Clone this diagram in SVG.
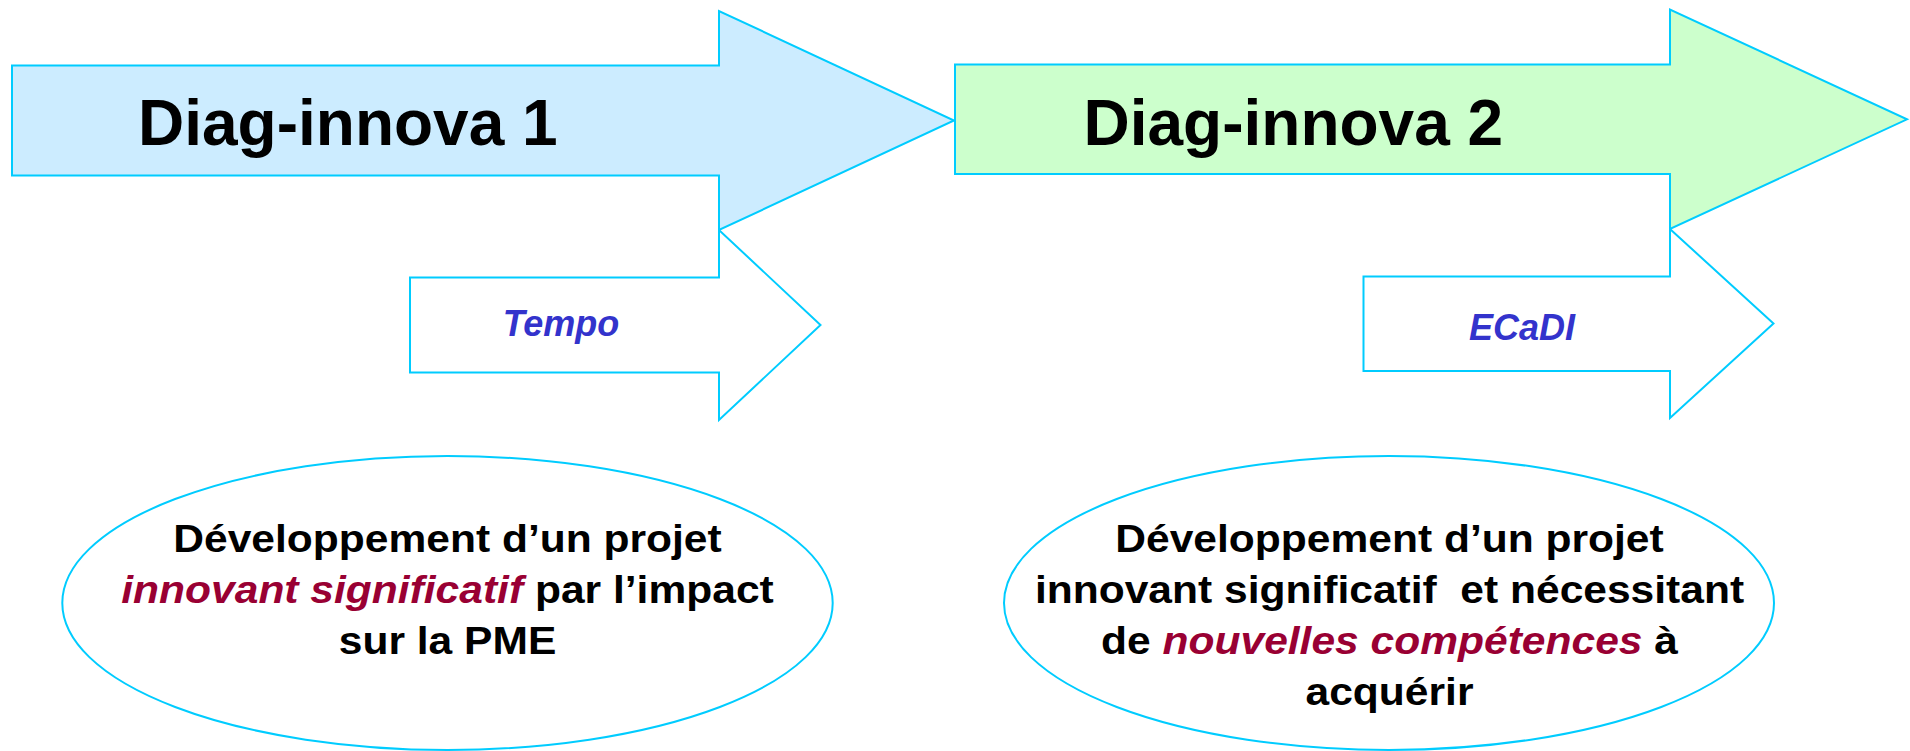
<svg xmlns="http://www.w3.org/2000/svg" width="1910" height="751" viewBox="0 0 1910 751">
<style>
.shape{stroke:#00CCFF;stroke-width:2;stroke-linejoin:miter}
.big{font-family:"Liberation Sans",Arial,sans-serif;font-weight:bold;font-size:64px;fill:#000}
.small{font-family:"Liberation Sans",Arial,sans-serif;font-weight:bold;font-style:italic;font-size:36px;fill:#3333CC;text-anchor:middle}
.body{font-family:"Liberation Sans",Arial,sans-serif;font-weight:bold;font-size:38px;fill:#000;text-anchor:middle}
.em{font-style:italic;fill:#990033}
</style>
<rect width="1910" height="751" fill="#FFFFFF"/>
<g id="connectors"></g>
<g id="arrow-diag1">
<polygon class="shape" fill="#CCECFF" points="12,65.5 719,65.5 719,11 954,120.5 719,230 719,175.5 12,175.5"/>
<text class="big" x="138" y="145">Diag-innova 1</text>
</g>
<g id="arrow-diag2">
<polygon class="shape" fill="#CCFFCC" points="955,64.5 1670,64.5 1670,9.5 1907,119.3 1670,229 1670,174 955,174"/>
<text class="big" x="1083.5" y="145">Diag-innova 2</text>
</g>
<g id="arrow-tempo">
<polygon class="shape" fill="#FFFFFF" points="410,277.5 719,277.5 719,230 820.5,325 719,420 719,372.5 410,372.5"/>
<text class="small" x="561" y="336">Tempo</text>
</g>
<g id="arrow-ecadi">
<polygon class="shape" fill="#FFFFFF" points="1363.5,276.5 1670,276.5 1670,229 1773.5,323.5 1670,418 1670,371 1363.5,371"/>
<text class="small" x="1522" y="340">ECaDI</text>
</g>
<g id="ellipse-1">
<ellipse class="shape" fill="#FFFFFF" cx="447.5" cy="603" rx="385.2" ry="147"/>
<g transform="translate(447.5 0) scale(1.12 1)">
<text class="body" x="0" y="552.5">Développement d’un projet</text>
<text class="body" x="0" y="603.5"><tspan class="em">innovant significatif</tspan> par l’impact</text>
<text class="body" x="0" y="654.5">sur la PME</text>
</g>
</g>
<g id="ellipse-2">
<ellipse class="shape" fill="#FFFFFF" cx="1389" cy="603" rx="385" ry="147"/>
<g transform="translate(1389.5 0) scale(1.12 1)">
<text class="body" x="0" y="552.5">Développement d’un projet</text>
<text class="body" x="0" y="603.5" style="white-space:pre">innovant significatif  et nécessitant</text>
<text class="body" x="0" y="654.5">de <tspan class="em">nouvelles compétences</tspan> à</text>
<text class="body" x="0" y="705.5">acquérir</text>
</g>
</g>
</svg>
